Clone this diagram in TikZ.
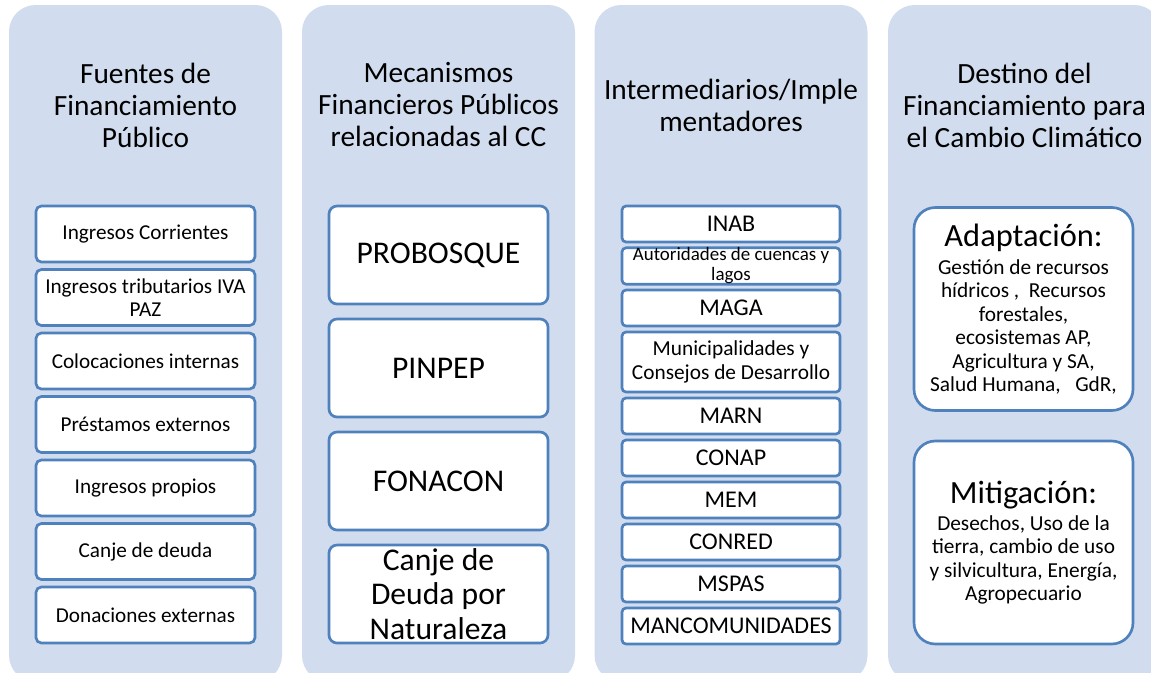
\documentclass[tikz,border=0pt]{standalone}
\usepackage{fontspec}
\setmainfont{Carlito}
\usetikzlibrary{shapes}
\definecolor{fondo}{RGB}{209,221,238}
\definecolor{borde}{RGB}{79,129,189}
\tikzstyle{columna}=[rectangle,fill=fondo,rounded corners=20pt,minimum width=204.75pt,minimum height=507.75pt]
\tikzstyle{titulo}=[align=center,font=\fontsize{22}{24}\selectfont]
\tikzstyle{caja}=[rectangle,draw=borde,fill=white,line width=2pt,inner sep=0pt,align=center]
\tikzstyle{fuente}=[caja,rounded corners=4pt,minimum width=164.25pt,minimum height=42pt,font=\fontsize{15.9}{17.25}\selectfont]
\tikzstyle{mecanismo}=[caja,rounded corners=6pt,minimum width=164.25pt,minimum height=73.5pt,font=\fontsize{23.7}{26}\selectfont]
\tikzstyle{interm}=[caja,rounded corners=3pt,minimum width=163.5pt,minimum height=27pt,font=\fontsize{18}{20}\selectfont]
\tikzstyle{destino}=[caja,rounded corners=16pt,minimum width=164.25pt,minimum height=152.25pt,font=\fontsize{16}{17.6}\selectfont]
\newcommand{\encabezado}[1]{{\fontsize{24.3}{24.3}\selectfont #1}}

\begin{document}
\begin{tikzpicture}[x=0.75pt,y=-0.75pt]
    \useasboundingbox (0,0) rectangle (1151,672);
    \clip (0,0) rectangle (1151,672);

    % columnas de fondo
    \node[columna] (col1) at (145.5,343.5) {};
    \node[columna] (col2) at (438.5,343.5) {};
    \node[columna] (col3) at (731,343.5) {};
    \node[columna] (col4) at (1024.5,343.5) {};

    \node[titulo] (t1) at (145.5,105) {Fuentes de\\Financiamiento\\Público};
    \node[titulo] (t2) at (438.5,105) {Mecanismos\\Financieros Públicos\\relacionadas al CC};
    \node[titulo] (t3) at (731,105) {Intermediarios/Imple\\mentadores};
    \node[titulo] (t4) at (1024.5,105) {Destino del\\Financiamiento para\\el Cambio Climático};

    % fuentes
    \node[fuente] (ic) at (145.5,234) {Ingresos Corrientes};
    \node[fuente] (itp) at (145.5,297.5) {Ingresos tributarios IVA\\PAZ};
    \node[fuente] (ci) at (145.5,361) {Colocaciones internas};
    \node[fuente] (pe) at (145.5,424.5) {Préstamos externos};
    \node[fuente] (ip) at (145.5,488) {Ingresos propios};
    \node[fuente] (cd) at (145.5,551.5) {Canje de deuda};
    \node[fuente] (de) at (145.5,615) {Donaciones externas};

    % mecanismos
    \node[mecanismo] (probosque) at (438.5,255) {PROBOSQUE};
    \node[mecanismo] (pinpep) at (438.5,368) {PINPEP};
    \node[mecanismo] (fonacon) at (438.5,481) {FONACON};
    \node[mecanismo] (canje) at (438.5,594) {Canje de\\Deuda por\\Naturaleza};

    % intermediarios
    \node[interm] (inab) at (731,224) {INAB};
    \node[interm,font=\fontsize{14.2}{15}\selectfont] (acl) at (731,266) {Autoridades de cuencas y\\lagos};
    \node[interm] (maga) at (731,308) {MAGA};
    \node[interm,minimum height=45pt,font=\fontsize{16}{18}\selectfont] (muni) at (731,362) {Municipalidades y\\Consejos de Desarrollo};
    \node[interm] (marn) at (731,416) {MARN};
    \node[interm] (conap) at (731,458) {CONAP};
    \node[interm] (mem) at (731,500) {MEM};
    \node[interm] (conred) at (731,542) {CONRED};
    \node[interm] (mspas) at (731,584) {MSPAS};
    \node[interm] (manc) at (731,626) {MANCOMUNIDADES};

    % destino
    \node[destino] (adapt) at (1023.5,309) {\encabezado{Adaptación:}\\[3.5pt]Gestión de recursos\\hídricos ,\ \ Recursos\\forestales,\\ecosistemas AP,\\Agricultura y SA,\\Salud Humana,\ \ \ GdR,};
    \node[destino] (mitig) at (1023.5,542.5) {\encabezado{Mitigación:}\\[2.5pt]Desechos, Uso de la\\tierra, cambio de uso\\y silvicultura, Energía,\\Agropecuario};
\end{tikzpicture}
\end{document}
